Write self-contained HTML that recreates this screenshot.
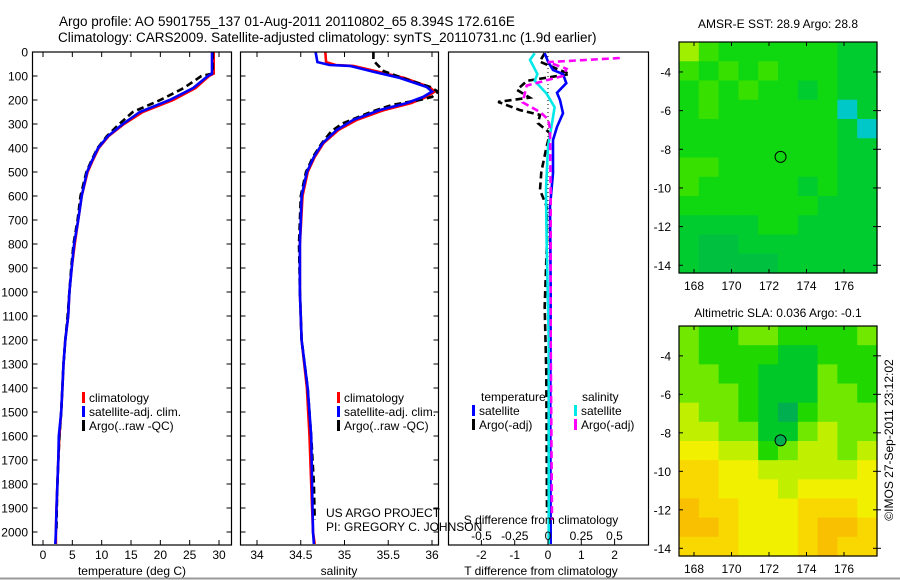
<!DOCTYPE html>
<html><head><meta charset="utf-8"><style>
html,body{margin:0;padding:0;background:#fff;}
svg{display:block;font-family:"Liberation Sans",sans-serif;}
</style></head><body>
<svg id="fig" width="900" height="580" viewBox="0 0 900 580" xmlns="http://www.w3.org/2000/svg">
<rect x="0" y="0" width="900" height="580" fill="#fff"/>
<line x1="0" y1="578.5" x2="900" y2="578.5" stroke="#999" stroke-width="2"/>
<text x="59" y="26" font-size="13.5" text-anchor="start">Argo profile: AO 5901755_137 01-Aug-2011 20110802_65 8.394S 172.616E</text>
<text x="58" y="42" font-size="13.5" text-anchor="start">Climatology: CARS2009. Satellite-adjusted climatology: synTS_20110731.nc (1.9d earlier)</text>
<text x="778" y="28" font-size="12" text-anchor="middle">AMSR-E SST: 28.9 Argo: 28.8</text>
<text x="778" y="317" font-size="12" text-anchor="middle">Altimetric SLA: 0.036 Argo: -0.1</text>
<text transform="translate(893,440) rotate(-90)" font-size="12" text-anchor="middle">©IMOS 27-Sep-2011 23:12:02</text>
<g id="plots"></g>
</svg>
<script>
// ---- data ----
const depthT = [0,90,100,150,200,250,300,350,400,450,500,600,700,800,900,1000,1100,1200,1300,1400,1500,1600,1700,1800,1900,2000,2050];
const tempClim = [29.1,29.1,28.3,26.0,22.2,17.0,13.8,11.2,9.5,8.5,7.6,6.6,6.0,5.4,4.9,4.5,4.3,3.8,3.5,3.3,3.1,2.8,2.6,2.45,2.3,2.2,2.2];
const tempSat = [28.8,28.8,28.1,25.6,21.6,16.5,13.6,11.1,9.4,8.4,7.5,6.6,6.0,5.3,4.9,4.5,4.3,3.8,3.5,3.3,3.1,2.7,2.6,2.45,2.3,2.2,2.1];
const depthTA = [0,90,100,150,200,250,300,350,400,450,500,600,700,800,900,1000,1100,1200,1300,1400,1500,1600,1700,1800,1900,1990];
const tempArgo = [28.9,28.9,27.0,24.0,20.0,15.3,13.0,10.9,9.3,8.3,7.4,6.4,5.9,5.2,4.8,4.5,4.2,3.8,3.5,3.3,3.1,2.8,2.6,2.45,2.35,2.3];

const depthS = [0,42,54,58,82,108,146,165,187,213,242,283,325,380,437,500,600,800,1000,1200,1400,1600,1800,2000,2050];
const salClim = [34.78,34.79,34.9,35.1,35.38,35.68,35.97,36.03,35.94,35.76,35.45,35.14,34.93,34.76,34.66,34.58,34.52,34.49,34.49,34.51,34.57,34.6,34.62,34.64,34.66];
const salSat = [34.67,34.69,34.83,35.06,35.33,35.63,35.94,36.0,35.9,35.71,35.4,35.1,34.91,34.75,34.65,34.57,34.51,34.49,34.49,34.51,34.58,34.62,34.63,34.64,34.65];
const depthSA = [0,35,55,80,108,146,165,187,200,220,250,297,330,380,437,500,600,800,1000,1200,1400,1600,1800,1950];
const salArgo = [35.33,35.33,35.38,35.45,35.66,35.98,36.07,36.0,35.86,35.55,35.3,34.98,34.85,34.74,34.64,34.56,34.5,34.48,34.49,34.51,34.58,34.62,34.65,34.66];

const depthDTS = [5,40,75,92,130,170,200,255,312,367,505,644,1000,1500,2050];
const dTSat = [-0.1,0,0.15,0.45,0.55,0.27,0.36,0.45,0.27,0.15,0.15,0.06,0.08,0.07,0.08];
const depthDTA = [5,40,92,120,158,190,208,242,262,297,338,400,500,575,644,783,1060,1340,1920];
const dTArgo = [-0.1,-0.25,0.65,-0.63,-0.93,-0.55,-1.5,-0.84,-0.24,-0.3,0.06,-0.05,-0.2,-0.24,-0.04,-0.03,-0.1,-0.05,-0.03];
const depthDSS = [5,33,92,120,174,230,297,394,575,800,1200,2050];
const dSSat = [-0.1,-0.135,-0.08,-0.1,-0.01,0.05,0.03,0,-0.015,-0.01,0.005,0.005];
const depthDSA = [25,42,70,100,140,210,250,280,320,600,1200,1950];
const dSArgo = [0.54,0,0.14,0.11,-0.16,-0.19,-0.06,0,0.015,0.02,0.02,0.03];

const depthTicks = [0,100,200,300,400,500,600,700,800,900,1000,1100,1200,1300,1400,1500,1600,1700,1800,1900,2000];
const tempTicks = [0,5,10,15,20,25,30];
const salTicks = [34,34.5,35,35.5,36];
const salTickLabels = ["34","34.5","35","35.5","36"];
const dTTicks = [-2,-1,0,1,2];
const dSTicks = [-0.5,-0.25,0,0.25,0.5];
const dSTickLabels = ["-0.5","-0.25","0","0.25","0.5"];
const lonTicks = [168,170,172,174,176];
const latTicks = [-4,-6,-8,-10,-12,-14];
const argoLon = 172.616, argoLat = -8.394;

const sstPalette = ['#00c040','#00cc30','#10d810','#38e000','#a0ee00','#00c8c8','#0040e0','#ffffff'];
const sstGrid = [
 [4,3,2,2,2,2,2,2,1,1],
 [3,2,3,2,3,2,2,2,1,1],
 [2,3,2,3,2,2,1,2,1,1],
 [2,3,2,2,2,2,2,2,5,1],
 [2,2,2,2,2,2,2,2,1,5],
 [2,2,2,2,2,2,2,2,1,1],
 [3,3,2,2,2,2,2,2,1,1],
 [3,2,2,2,2,2,1,2,1,1],
 [2,2,2,2,2,2,2,1,1,1],
 [1,1,1,1,2,2,1,1,1,1],
 [1,0,0,1,1,1,1,1,1,1],
 [1,0,0,0,0,1,1,1,1,1]
];
const slaPalette = ['#00b050','#00c828','#20d800','#70e800','#c0f000','#f0f000','#f8d800','#f8c000'];
const slaGrid = [
 [3,2,2,3,3,2,2,2,2,3],
 [3,2,2,2,2,1,1,2,2,2],
 [3,3,2,2,1,1,1,3,2,2],
 [3,3,3,2,1,1,1,3,3,2],
 [4,3,3,2,1,0,2,3,3,3],
 [4,4,3,3,1,1,3,4,3,3],
 [5,5,4,4,2,3,4,4,3,4],
 [6,6,5,5,4,4,4,4,4,5],
 [6,6,5,5,5,4,5,5,5,5],
 [7,6,6,5,5,5,6,6,6,5],
 [7,7,6,5,5,5,6,7,7,6],
 [6,6,6,5,5,5,6,7,6,6]
];

// ---- drawing ----
const NS='http://www.w3.org/2000/svg';
const root=document.getElementById('plots');
function el(tag,attrs,parent){const e=document.createElementNS(NS,tag);for(const k in attrs)e.setAttribute(k,attrs[k]);(parent||root).appendChild(e);return e;}
const Y0=52, KY=0.24, YB=545;
const yD = d => Y0 + d*KY;
const xT = t => 43 + t*5.867;
const xS = s => 257 + (s-34)*87.5;
const xDT = v => 548 + v*33.3;
const xDS = v => 548 + v*133;

const panels=[{x0:32.5,x1:231.5,name:'temperature-panel'},{x0:240.5,x1:438.5,name:'salinity-panel'},{x0:448.5,x1:648.5,name:'difference-panel'}];
panels.forEach((p,i)=>{
  const cp=el('clipPath',{id:'clip'+i});
  el('rect',{x:p.x0,y:Y0,width:p.x1-p.x0,height:YB-Y0},cp);
});

function profile(xs,ds,fx,color,dash,clip,name){
  const pts=xs.map((v,i)=>fx(v).toFixed(1)+','+yD(ds[i]).toFixed(1)).join(' ');
  const pl=el('polyline',{points:pts,fill:'none',stroke:color,'stroke-width':2.6,'clip-path':'url(#clip'+clip+')'});
  if(dash) pl.setAttribute('stroke-dasharray',dash);
  
  
}
function txt(x,y,s,size,anchor,name){
  const t=el('text',{x:x,y:y,'font-size':size,'text-anchor':anchor||'start'});
  t.textContent=s;
  
  
  return t;
}

profile(tempClim,depthT,xT,'#ff0000',null,0,'temp-climatology-line');
profile(tempArgo,depthTA,xT,'#000000','7,4',0,'temp-argo-line');
profile(tempSat,depthT,xT,'#0000ff',null,0,'temp-satellite-line');
profile(salClim,depthS,xS,'#ff0000',null,1,'sal-climatology-line');
profile(salArgo,depthSA,xS,'#000000','7,4',1,'sal-argo-line');
profile(salSat,depthS,xS,'#0000ff',null,1,'sal-satellite-line');
const zl=el('line',{x1:548,y1:Y0,x2:548,y2:YB,stroke:'#000','stroke-width':1,'stroke-dasharray':'1,3'});


profile(dTArgo,depthDTA,xDT,'#000000','7,4',2,'dT-argo-line');
profile(dTSat,depthDTS,xDT,'#0000ff',null,2,'dT-satellite-line');
profile(dSSat,depthDSS,xDS,'#00e8e8',null,2,'dS-satellite-line');
profile(dSArgo,depthDSA,xDS,'#ff00ff','7,4',2,'dS-argo-line');

panels.forEach((p,i)=>{
  const r=el('rect',{x:p.x0,y:Y0,width:p.x1-p.x0,height:YB-Y0,fill:'none',stroke:'#000','stroke-width':1.2});
  
  
  if(i<2){
    depthTicks.forEach(d=>{
      el('line',{x1:p.x0,y1:yD(d),x2:p.x0+5,y2:yD(d),stroke:'#000'});
      el('line',{x1:p.x1-5,y1:yD(d),x2:p.x1,y2:yD(d),stroke:'#000'});
    });
  }
});
depthTicks.forEach(d=>{ txt(28,yD(d)+4.5,String(d),12,'end','depth-tick-label'); });
tempTicks.forEach(t=>{
  el('line',{x1:xT(t),y1:Y0,x2:xT(t),y2:Y0+5,stroke:'#000'});
  el('line',{x1:xT(t),y1:YB-5,x2:xT(t),y2:YB,stroke:'#000'});
  txt(xT(t),559,String(t),12,'middle','temp-tick-label');
});
salTicks.forEach((s,i)=>{
  el('line',{x1:xS(s),y1:Y0,x2:xS(s),y2:Y0+5,stroke:'#000'});
  el('line',{x1:xS(s),y1:YB-5,x2:xS(s),y2:YB,stroke:'#000'});
  txt(xS(s),559,salTickLabels[i],12,'middle','sal-tick-label');
});
dTTicks.forEach(t=>{
  el('line',{x1:xDT(t),y1:YB-5,x2:xDT(t),y2:YB,stroke:'#000'});
  txt(xDT(t),559,String(t),12,'middle','dT-tick-label');
});
dSTicks.forEach((s,i)=>{ txt(xDS(s),540,dSTickLabels[i],12,'middle','dS-tick-label'); });
txt(132,575,'temperature (deg C)',12,'middle','temp-axis-title');
txt(339,575,'salinity',12,'middle','sal-axis-title');
txt(541,575,'T difference from climatology',12,'middle','dT-axis-title');
txt(541,524,'S difference from climatology',12,'middle','dS-axis-title');
txt(326,517,'US ARGO PROJECT',12,'start','project-label');
txt(326,531,'PI: GREGORY C. JOHNSON',12,'start','pi-label');

function legItem(x,y,color,label,name){
  const m=el('rect',{x:x,y:y-10,width:3,height:11,fill:color});
  
  
  txt(x+7,y,label,12,'start',name+'-label');
}
[[82,'temp-legend'],[337,'sal-legend']].forEach(([x,n])=>{
  legItem(x,402,'#ff0000','climatology',n+'-climatology');
  legItem(x,416,'#0000ff','satellite-adj. clim.',n+'-satellite');
  legItem(x,430,'#000000','Argo(..raw -QC)',n+'-argo');
});
txt(481,401,'temperature',12,'start','diff-legend-temperature-header');
txt(582,401,'salinity',12,'start','diff-legend-salinity-header');
legItem(472,415,'#0000ff','satellite','diff-legend-t-satellite');
legItem(472,429,'#000000','Argo(-adj)','diff-legend-t-argo');
legItem(574,415,'#00e8e8','satellite','diff-legend-s-satellite');
legItem(574,429,'#ff00ff','Argo(-adj)','diff-legend-s-argo');

const LON0=167.2, LON1=177.76, LAT0=-2.45, LAT1=-14.4;
function drawMap(top,bottom,grid,pal,name,circleFill){
  const X0=679,X1=877;
  const mx=lon=>X0+(lon-LON0)/(LON1-LON0)*(X1-X0);
  const my=lat=>top+(lat-LAT0)/(LAT1-LAT0)*(bottom-top);
  const g=el('g',{});
  
  
  const rows=grid.length, cols=grid[0].length;
  grid.forEach((row,r)=>row.forEach((v,c)=>{
    const cx0=X0+c*(X1-X0)/cols, cy0=top+r*(bottom-top)/rows;
    const cell=el('rect',{x:cx0.toFixed(2),y:cy0.toFixed(2),width:((X1-X0)/cols+0.6).toFixed(2),height:((bottom-top)/rows+0.6).toFixed(2),fill:pal[v]},g);
    
    
  }));
  const fr=el('rect',{x:X0,y:top,width:X1-X0,height:bottom-top,fill:'none',stroke:'#000','stroke-width':1.2});
  
  
  lonTicks.forEach(l=>{
    el('line',{x1:mx(l),y1:top,x2:mx(l),y2:top+4,stroke:'#000'});
    el('line',{x1:mx(l),y1:bottom-4,x2:mx(l),y2:bottom,stroke:'#000'});
    txt(mx(l),bottom+17,String(l),12,'middle',name+'-lon-label');
  });
  latTicks.forEach(l=>{
    el('line',{x1:X0,y1:my(l),x2:X0+4,y2:my(l),stroke:'#000'});
    el('line',{x1:X1-4,y1:my(l),x2:X1+4,y2:my(l),stroke:'#000'});
    txt(671,my(l)+4.5,String(l),12,'end',name+'-lat-label');
  });
  const c=el('circle',{cx:mx(argoLon),cy:my(argoLat),r:5.5,fill:circleFill,stroke:'#000','stroke-width':1});
  
  
}
drawMap(42,273,sstGrid,sstPalette,'sst-map','none');
drawMap(326,556,slaGrid,slaPalette,'sla-map','#00b050');
</script>
</body></html>
